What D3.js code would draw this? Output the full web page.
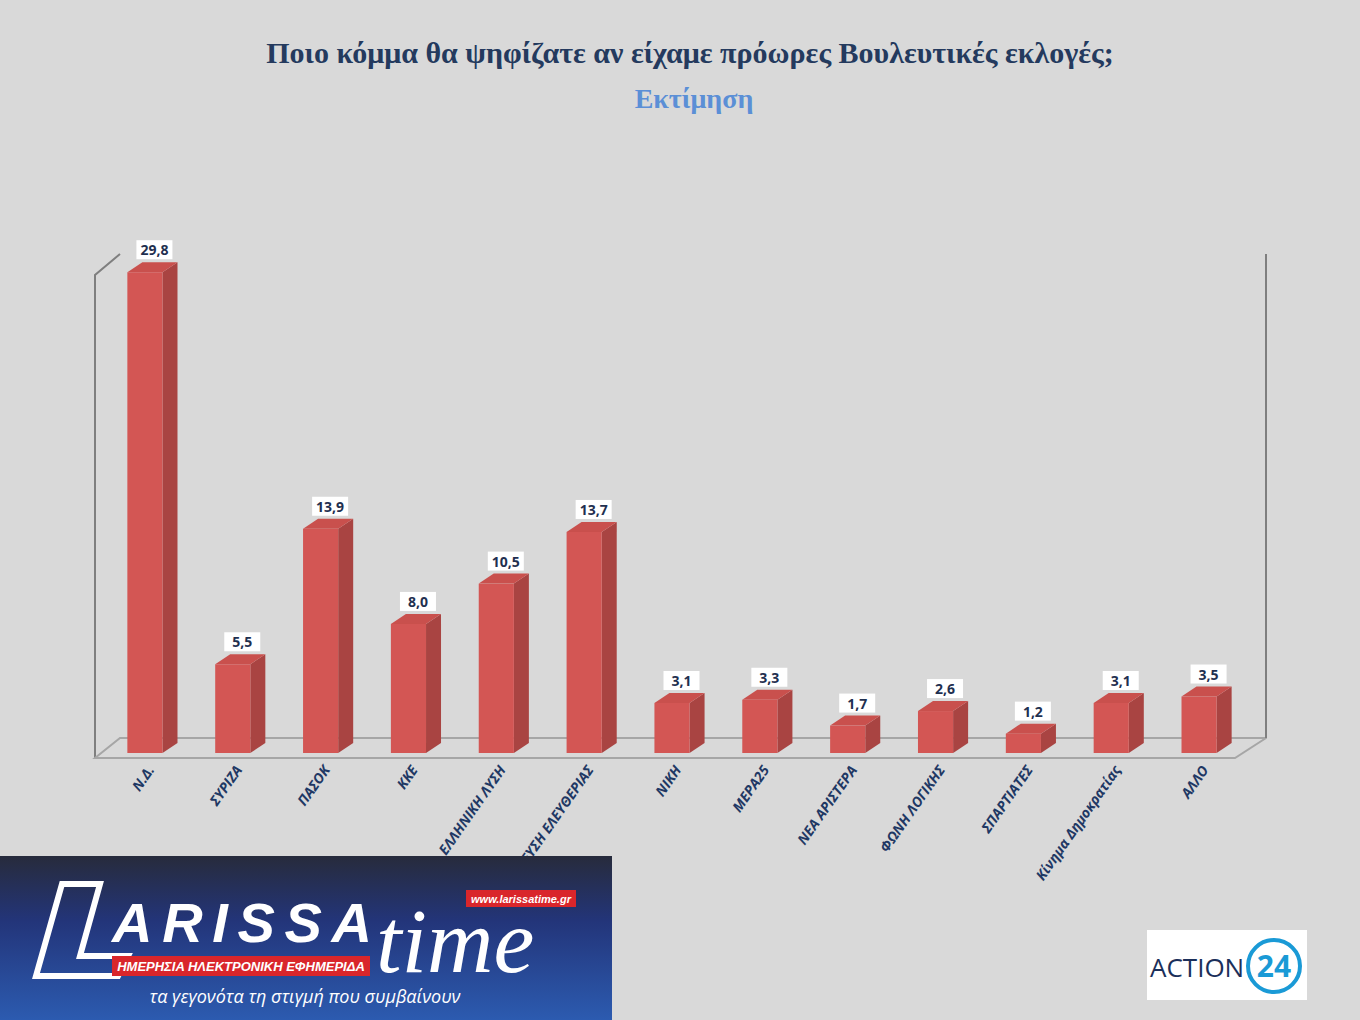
<!DOCTYPE html>
<html><head><meta charset="utf-8">
<script src="https://cdn.jsdelivr.net/npm/d3@7"></script>
<style>body{margin:0;background:#d9d9d9}</style></head>
<body><svg id="c" width="1360" height="1020"></svg>
<script>
const categories=["Ν.Δ.","ΣΥΡΙΖΑ","ΠΑΣΟΚ","ΚΚΕ","ΕΛΛΗΝΙΚΗ ΛΥΣΗ","ΠΛΕΥΣΗ ΕΛΕΥΘΕΡΙΑΣ","ΝΙΚΗ","ΜΕΡΑ25","ΝΕΑ ΑΡΙΣΤΕΡΑ","ΦΩΝΗ ΛΟΓΙΚΗΣ","ΣΠΑΡΤΙΑΤΕΣ","Κίνημα Δημοκρατίας","ΑΛΛΟ"];
const values=[29.8,5.5,13.9,8.0,10.5,13.7,3.1,3.3,1.7,2.6,1.2,3.1,3.5];
const svg=d3.select("#c");
svg.append("rect").attr("width",1360).attr("height",1020).attr("fill","#d9d9d9");
svg.append("text").attr("x",690).attr("y",63).attr("text-anchor","middle").attr("font-family","Liberation Serif").attr("font-weight","bold").attr("font-size",30).attr("fill","#243a5e").text("Ποιο κόμμα θα ψηφίζατε αν είχαμε πρόωρες Βουλευτικές εκλογές;");
svg.append("text").attr("x",694).attr("y",108).attr("text-anchor","middle").attr("font-family","Liberation Serif").attr("font-weight","bold").attr("font-size",28).attr("fill","#5b8fd6").text("Εκτίμηση");
const x=d3.scaleBand().domain(categories).range([101,1243]).paddingInner(0.6).paddingOuter(0.3);
const y=d3.scaleLinear().domain([0,30]).range([753,269]);
const dx=15,dy=10;
const g=svg.append("g").attr("fill","none").attr("stroke","#7f7f7f").attr("stroke-width",2);
g.append("path").attr("d","M95,758 L95,275 L120,254");
g.append("path").attr("d","M1266,254 L1266,738 L1235,758 L95,758 L120,738 L1266,738").attr("stroke","#a6a6a6");
g.append("path").attr("d","M1266,254 L1266,738").attr("stroke","#7f7f7f");
const bars=svg.append("g");
categories.forEach((c,i)=>{
 const x0=x(c),w=x.bandwidth(),yt=y(values[i]),yb=y(0);
 bars.append("path").attr("d",`M${x0+w},${yt} L${x0+w+dx},${yt-dy} L${x0+w+dx},${yb-dy} L${x0+w},${yb} Z`).attr("fill","#a94442");
 bars.append("path").attr("d",`M${x0},${yt} L${x0+dx},${yt-dy} L${x0+w+dx},${yt-dy} L${x0+w},${yt} Z`).attr("fill","#c9504d");
 bars.append("rect").attr("x",x0).attr("y",yt).attr("width",w).attr("height",yb-yt).attr("fill","#d35654");
 const lab=values[i].toFixed(1).replace(".",",");
 const cx=x0+w/2+dx/2+2;
 bars.append("rect").attr("x",cx-18).attr("y",yt-dy-22).attr("width",36).attr("height",19).attr("fill","#fff");
 bars.append("text").attr("x",cx).attr("y",yt-dy-7).attr("text-anchor","middle").attr("font-family","Open Sans").attr("font-weight","bold").attr("font-size",14).attr("fill","#1f3050").text(lab);
 svg.append("text").attr("transform",`translate(${x0+w/2+10},${770}) rotate(-55)`).attr("text-anchor","end").attr("font-family","Open Sans").attr("font-style","italic").attr("font-weight","bold").attr("font-size",14).attr("fill","#1f3864").text(c);
});
const defs=svg.append("defs");
const lg=defs.append("linearGradient").attr("id","lg").attr("x1",0).attr("y1",0).attr("x2",0).attr("y2",1);
lg.append("stop").attr("offset",0).attr("stop-color","#272b3c");
lg.append("stop").attr("offset",0.4).attr("stop-color","#23357a");
lg.append("stop").attr("offset",1).attr("stop-color","#2c5bb0");
const L=svg.append("g");
L.append("rect").attr("x",0).attr("y",856).attr("width",612).attr("height",164).attr("fill","url(#lg)");
L.append("path").attr("d","M62,884 L100,884 L80,956 L128,956 L118,976 L36,976 Z").attr("fill","none").attr("stroke","#fff").attr("stroke-width",6);
L.append("text").attr("x",112).attr("y",942).attr("font-family","Liberation Sans").attr("font-weight","bold").attr("font-style","italic").attr("font-size",56).attr("fill","#fff").attr("textLength",260).text("ARISSA");
L.append("text").attr("x",376).attr("y",972).attr("font-family","Liberation Serif").attr("font-style","italic").attr("font-size",92).attr("fill","#fff").text("time");
L.append("rect").attr("x",112).attr("y",956).attr("width",258).attr("height",20).attr("fill","#d9262b");
L.append("text").attr("x",241).attr("y",971).attr("text-anchor","middle").attr("font-family","Liberation Sans").attr("font-weight","bold").attr("font-style","italic").attr("font-size",13).attr("fill","#fff").text("ΗΜΕΡΗΣΙΑ ΗΛΕΚΤΡΟΝΙΚΗ ΕΦΗΜΕΡΙΔΑ");
L.append("rect").attr("x",466).attr("y",890).attr("width",110).attr("height",17).attr("fill","#d9262b");
L.append("text").attr("x",521).attr("y",903).attr("text-anchor","middle").attr("font-family","Liberation Sans").attr("font-weight","bold").attr("font-style","italic").attr("font-size",11).attr("fill","#fff").text("www.larissatime.gr");
L.append("text").attr("x",305).attr("y",1003).attr("text-anchor","middle").attr("font-family","Open Sans").attr("font-style","italic").attr("font-size",18).attr("fill","#fff").text("τα γεγονότα τη στιγμή που συμβαίνουν");
const A=svg.append("g");
A.append("rect").attr("x",1147).attr("y",930).attr("width",160).attr("height",70).attr("fill","#fff");
A.append("text").attr("x",1150).attr("y",977).attr("font-family","Open Sans").attr("font-size",26).attr("fill","#1b2f5a").text("ACTION");
A.append("circle").attr("cx",1274).attr("cy",966).attr("r",26).attr("fill","none").attr("stroke","#1a9ad6").attr("stroke-width",4);
A.append("text").attr("x",1274).attr("y",977).attr("text-anchor","middle").attr("font-family","Open Sans").attr("font-weight","bold").attr("font-size",30).attr("fill","#1a9ad6").text("24");
</script></body></html>
